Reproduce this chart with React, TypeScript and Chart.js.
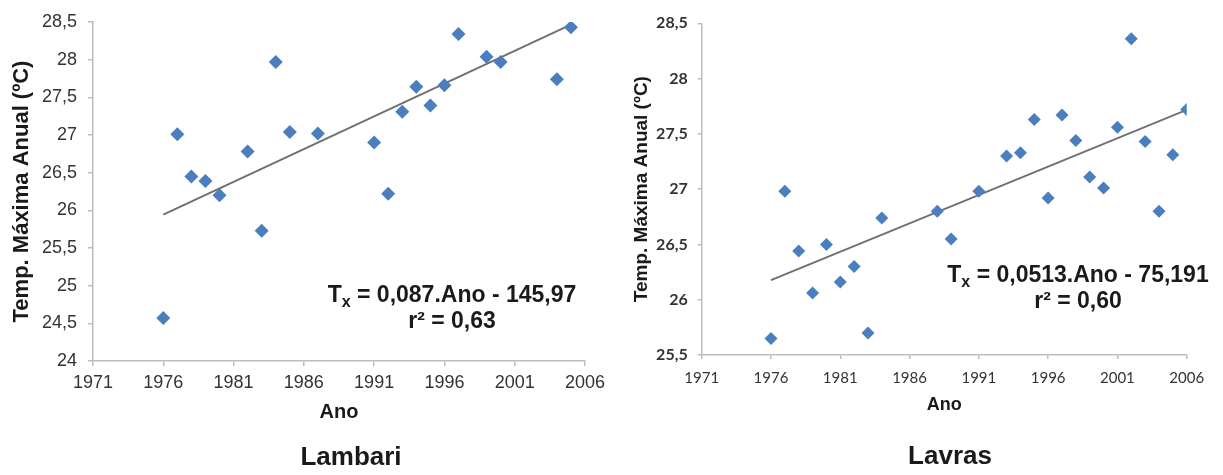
import React, { useEffect, useRef } from 'react';
import { Chart, registerables } from 'chart.js';

Chart.register(...registerables);

// ---------- data ----------
const xTickYears = [1971, 1976, 1981, 1986, 1991, 1996, 2001, 2006];

const lambariYears = [1976, 1977, 1978, 1979, 1980, 1982, 1983, 1984, 1985, 1987, 1991, 1992, 1993, 1994, 1995, 1996, 1997, 1999, 2000, 2004, 2005];
const lambariTemps = [24.57, 27.01, 26.45, 26.39, 26.2, 26.78, 25.73, 27.97, 27.04, 27.02, 26.9, 26.22, 27.31, 27.64, 27.39, 27.66, 28.34, 28.04, 27.97, 27.74, 28.43];
const lambariYTicks = [24, 24.5, 25, 25.5, 26, 26.5, 27, 27.5, 28, 28.5];
const lambariSlope = 0.087;
const lambariIntercept = -145.97;
const lambariEquation = ' = 0,087.Ano - 145,97';
const lambariR2 = 'r² = 0,63';

const lavrasYears = [1976, 1977, 1978, 1979, 1980, 1981, 1982, 1983, 1984, 1988, 1989, 1991, 1993, 1994, 1995, 1996, 1997, 1998, 1999, 2000, 2001, 2002, 2003, 2004, 2005, 2006];
const lavrasTemps = [25.65, 26.98, 26.44, 26.06, 26.5, 26.16, 26.3, 25.7, 26.74, 26.8, 26.55, 26.98, 27.3, 27.33, 27.63, 26.92, 27.67, 27.44, 27.11, 27.01, 27.56, 28.36, 27.43, 26.8, 27.31, 27.72];
const lavrasYTicks = [25.5, 26, 26.5, 27, 27.5, 28, 28.5];
const lavrasSlope = 0.0513;
const lavrasIntercept = -75.191;
const lavrasEquation = ' = 0,0513.Ano - 75,191';
const lavrasR2 = 'r² = 0,60';

const Y_TITLE = 'Temp. Máxima Anual (ºC)';
const X_TITLE = 'Ano';

// ---------- helpers ----------
const ARIAL = '"Liberation Sans", Arial, sans-serif';
const LATO = 'Lato, "Open Sans", sans-serif';
const fmt = (v: number) => String(v).replace('.', ',');

const annotationPlugin = {
  id: 'annot',
  afterDraw(chart: any, _args: any, opts: any) {
    const { ctx } = chart;
    const { rest, line2, cx, y1, y2, size, title, titleX, titleY, titleSize } = opts;
    ctx.save();
    ctx.fillStyle = '#1a1a1a';
    ctx.textBaseline = 'alphabetic';
    const big = `bold ${size}px ${ARIAL}`;
    const small = `bold ${Math.round(size * 0.68)}px ${ARIAL}`;
    ctx.font = big;
    const wT = ctx.measureText('T').width;
    const wRest = ctx.measureText(rest).width;
    ctx.font = small;
    const wx = ctx.measureText('x').width;
    let x = cx - (wT + wx + wRest) / 2;
    ctx.textAlign = 'left';
    ctx.font = big;
    ctx.fillText('T', x, y1);
    x += wT;
    ctx.font = small;
    ctx.fillText('x', x, y1 + size * 0.22);
    x += wx;
    ctx.font = big;
    ctx.fillText(rest, x, y1);
    ctx.textAlign = 'center';
    ctx.fillText(line2, cx, y2);
    // panel title below the axis
    ctx.font = `bold ${titleSize}px ${ARIAL}`;
    ctx.textBaseline = 'middle';
    ctx.fillText(title, titleX, titleY);
    ctx.restore();
  },
};

type Spec = {
  years: number[];
  temps: number[];
  yTicks: number[];
  slope: number;
  intercept: number;
  equation: string;
  r2: string;
  title: string;
  pointRadius: number;
  padTop: number;
  padRight: number;
  yWidth: number;
  xHeight: number;
  yTickFont: any;
  yTickPad: number;
  xTickFont: any;
  xTickPad: number;
  tickLen: number;
  yTitleSize: number;
  yTitlePad: number;
  xTitleSize: number;
  xTitlePad: number;
  eq: { cx: number; y1: number; y2: number; size: number };
  titlePos: { titleX: number; titleY: number; titleSize: number };
};

function makeConfig(s: Spec): any {
  const minYear = Math.min(...s.years);
  const maxYear = Math.max(...s.years);
  const trend = [minYear, maxYear].map((yr) => ({ x: yr, y: s.slope * yr + s.intercept }));
  const points = s.years.map((yr, i) => ({ x: yr, y: s.temps[i] }));
  const gridOpts = {
    display: true,
    drawOnChartArea: false,
    drawTicks: true,
    tickLength: s.tickLen,
    color: '#bdbdbd',
    lineWidth: 1.5,
  };
  return {
    type: 'scatter',
    data: {
      datasets: [
        {
          data: points,
          pointStyle: 'rectRot',
          pointRadius: s.pointRadius,
          backgroundColor: '#4A7EBF',
          borderColor: '#4A7EBF',
          borderWidth: 0,
          showLine: false,
          order: 1,
        },
        {
          data: trend,
          showLine: true,
          pointRadius: 0,
          borderColor: '#707070',
          borderWidth: 2,
          order: 2,
        },
      ],
    },
    options: {
      responsive: false,
      animation: false,
      layout: { padding: { top: s.padTop, right: s.padRight, left: 0, bottom: 0 } },
      plugins: {
        legend: { display: false },
        tooltip: { enabled: false },
        title: { display: false },
        annot: { rest: s.equation, line2: s.r2, title: s.title, ...s.eq, ...s.titlePos },
      },
      scales: {
        x: {
          type: 'linear',
          min: xTickYears[0],
          max: xTickYears[xTickYears.length - 1],
          afterBuildTicks: (scale: any) => {
            scale.ticks = xTickYears.map((v) => ({ value: v }));
          },
          afterFit: (scale: any) => {
            scale.height = s.xHeight;
          },
          grid: gridOpts,
          border: { display: true, color: '#bdbdbd', width: 1.5 },
          ticks: {
            callback: (v: number) => String(v),
            font: s.xTickFont,
            color: '#333333',
            padding: s.xTickPad,
            maxRotation: 0,
            autoSkip: false,
          },
          title: {
            display: true,
            text: X_TITLE,
            color: '#1a1a1a',
            font: { family: ARIAL, size: s.xTitleSize, weight: 'bold', lineHeight: 1.2 },
            padding: { top: 0, bottom: s.xTitlePad },
          },
        },
        y: {
          type: 'linear',
          min: s.yTicks[0],
          max: s.yTicks[s.yTicks.length - 1],
          afterBuildTicks: (scale: any) => {
            scale.ticks = s.yTicks.map((v) => ({ value: v }));
          },
          afterFit: (scale: any) => {
            scale.width = s.yWidth;
          },
          grid: gridOpts,
          border: { display: true, color: '#bdbdbd', width: 1.5 },
          ticks: {
            callback: (v: number) => fmt(v),
            font: s.yTickFont,
            color: '#333333',
            padding: s.yTickPad,
            autoSkip: false,
          },
          title: {
            display: true,
            text: Y_TITLE,
            color: '#1a1a1a',
            font: { family: ARIAL, size: s.yTitleSize, weight: 'bold', lineHeight: 1.2 },
            padding: { top: s.yTitlePad, bottom: 0 },
          },
        },
      },
    },
    plugins: [annotationPlugin],
  };
}

const lambariSpec: Spec = {
  years: lambariYears,
  temps: lambariTemps,
  yTicks: lambariYTicks,
  slope: lambariSlope,
  intercept: lambariIntercept,
  equation: lambariEquation,
  r2: lambariR2,
  title: 'Lambari',
  pointRadius: 7,
  padTop: 22,
  padRight: 17,
  yWidth: 93,
  xHeight: 114,
  yTickFont: { family: ARIAL, size: 18 },
  yTickPad: 11,
  xTickFont: { family: ARIAL, size: 18 },
  xTickPad: 6,
  tickLen: 5,
  yTitleSize: 22,
  yTitlePad: 8.8,
  xTitleSize: 20,
  xTitlePad: 51,
  eq: { cx: 452, y1: 302, y2: 328, size: 23 },
  titlePos: { titleX: 351, titleY: 458, titleSize: 26 },
};

const lavrasSpec: Spec = {
  years: lavrasYears,
  temps: lavrasTemps,
  yTicks: lavrasYTicks,
  slope: lavrasSlope,
  intercept: lavrasIntercept,
  equation: lavrasEquation,
  r2: lavrasR2,
  title: 'Lavras',
  pointRadius: 6.5,
  padTop: 23.3,
  padRight: 36.3,
  yWidth: 90.7,
  xHeight: 120,
  yTickFont: { family: LATO, size: 16, weight: 'bold' },
  yTickPad: 10,
  xTickFont: { family: LATO, size: 15 },
  xTickPad: 10,
  tickLen: 4,
  yTitleSize: 19,
  yTitlePad: 19.6,
  xTitleSize: 18,
  xTitlePad: 59.2,
  eq: { cx: 467, y1: 282, y2: 308, size: 23 },
  titlePos: { titleX: 339, titleY: 457, titleSize: 26 },
};

function ChartPanel({ spec, left, width }: { spec: Spec; left: number; width: number }) {
  const ref = useRef<HTMLCanvasElement | null>(null);
  useEffect(() => {
    if (!ref.current) return;
    const chart = new Chart(ref.current, makeConfig(spec));
    return () => chart.destroy();
  }, [spec]);
  return (
    <canvas
      ref={ref}
      width={width}
      height={475}
      style={{ position: 'absolute', left, top: 0, width, height: 475 }}
    />
  );
}

export default function App() {
  return (
    <div
      style={{
        position: 'absolute',
        left: 0,
        top: 0,
        width: 1223,
        height: 475,
        background: '#ffffff',
        overflow: 'hidden',
      }}
    >
      <ChartPanel spec={lambariSpec} left={0} width={611} />
      <ChartPanel spec={lavrasSpec} left={611} width={612} />
    </div>
  );
}
